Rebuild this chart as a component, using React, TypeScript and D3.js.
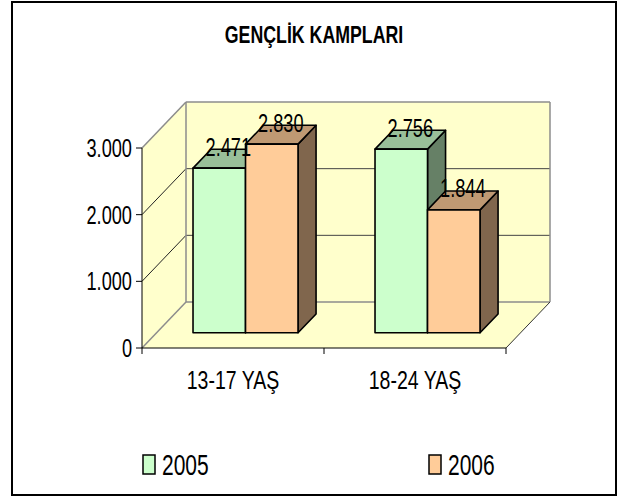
import React, { useEffect, useRef } from 'react';
import * as d3 from 'd3';

const categories = ['13-17 YAŞ', '18-24 YAŞ'];
const seriesNames = ['2005', '2006'];
const values2005 = [2471, 2756];
const values2006 = [2830, 1844];
const yTicks = [0, 1000, 2000, 3000];
const title = 'GENÇLİK KAMPLARI';

const faceColors: Record<string, { front: string; top: string; side: string }> = {
    '2005': { front: '#CCFFCC', top: '#99BF99', side: '#668066' },
    '2006': { front: '#FFCC99', top: '#BF9973', side: '#80664D' },
};

const W = 624, H = 500;
const depth = { x: 44, y: -46 };
const wallFill = '#FFFFCC';
const edgeGrey = '#8C8C8C';
const textFont = '"Liberation Sans", Arial, sans-serif';

const locale = d3.formatLocale({ decimal: ',', thousands: '.', grouping: [3], currency: ['', ''] });
const fmt = locale.format(',d');

export default function App() {
    const ref = useRef<SVGSVGElement>(null);

    useEffect(() => {
        const svg = d3.select(ref.current);
        svg.selectAll('*').remove();

        const yScale = d3.scaleLinear().domain([0, 3000]).range([348, 148]);
        const xScale = d3.scaleBand().domain(categories).range([142, 506]);
        const serScale = d3.scaleBand().domain(seriesNames).range([0, 105]);
        const groupOffset = 36.5;
        const t0 = 0.33, t1 = 0.74;
        const [xMin, xMax] = xScale.range();
        const yMax = yScale.domain()[1];

        const pt = (x: number, v: number, t: number): [number, number] =>
            [x + depth.x * t, yScale(v) + depth.y * t];
        const poly = (pts: [number, number][]) => pts.map(p => p.join(',')).join(' ');
        const line = (g: any, a: [number, number], b: [number, number], color: string, w: number) =>
            g.append('line').attr('x1', a[0]).attr('y1', a[1]).attr('x2', b[0]).attr('y2', b[1])
                .attr('stroke', color).attr('stroke-width', w);
        const label = (x: number, y: number, txt: string, size: number, anchor: string, sx = 0.7, weight = 'normal') =>
            svg.append('text')
                .attr('transform', `translate(${x},${y}) scale(${sx},1)`)
                .attr('text-anchor', anchor)
                .attr('font-family', textFont)
                .attr('font-size', size)
                .attr('font-weight', weight)
                .attr('fill', '#000')
                .text(txt);

        // outer frame
        svg.append('rect').attr('x', 12).attr('y', 2).attr('width', 604).attr('height', 493)
            .attr('fill', '#fff').attr('stroke', '#000').attr('stroke-width', 2);

        label(W / 2 + 2, 43, title, 24, 'middle', 0.74, 'bold');

        // walls and floor
        const walls = svg.append('g');
        walls.append('polygon').attr('points', poly([pt(xMin, 0, 1), pt(xMax, 0, 1), pt(xMax, yMax, 1), pt(xMin, yMax, 1)]))
            .attr('fill', wallFill);
        walls.append('polygon').attr('points', poly([pt(xMin, 0, 0), pt(xMin, 0, 1), pt(xMin, yMax, 1), pt(xMin, yMax, 0)]))
            .attr('fill', wallFill);
        walls.append('polygon').attr('points', poly([pt(xMin, 0, 0), pt(xMax, 0, 0), pt(xMax, 0, 1), pt(xMin, 0, 1)]))
            .attr('fill', wallFill);

        // gridlines
        yTicks.filter(v => v > 0 && v < yMax).forEach(v => {
            line(walls, pt(xMin, v, 0), pt(xMin, v, 1), '#222', 1);
            line(walls, pt(xMin, v, 1), pt(xMax, v, 1), '#444', 1);
        });

        // wall edges
        line(walls, pt(xMin, yMax, 0), pt(xMin, yMax, 1), edgeGrey, 1.5);
        line(walls, pt(xMin, 0, 0), pt(xMin, 0, 1), edgeGrey, 1.5);
        line(walls, pt(xMin, yMax, 1), pt(xMax, yMax, 1), edgeGrey, 1.5);
        line(walls, pt(xMin, 0, 1), pt(xMax, 0, 1), edgeGrey, 1.5);
        line(walls, pt(xMin, 0, 1), pt(xMin, yMax, 1), edgeGrey, 1.5);
        line(walls, pt(xMax, 0, 1), pt(xMax, yMax, 1), edgeGrey, 1.5);
        line(walls, pt(xMax, 0, 0), pt(xMax, 0, 1), '#333', 1);

        // axes
        line(walls, pt(xMin, 0, 0), pt(xMin, yMax, 0), '#000', 1);
        line(walls, pt(xMin, 0, 0), pt(xMax, 0, 0), '#000', 1);
        yTicks.forEach(v => {
            line(walls, [xMin - 6, yScale(v)], [xMin, yScale(v)], '#000', 1);
            label(xMin - 10, yScale(v) + 9, fmt(v), 26, 'end');
        });
        [...categories.map(c => xScale(c) as number), xMax].forEach(x => {
            line(walls, [x, yScale(0)], [x, yScale(0) + 6], '#000', 1);
        });
        categories.forEach(c => {
            label((xScale(c) as number) + xScale.bandwidth() / 2, 389, c, 26, 'middle', 0.75);
        });

        // bars
        const seriesValues: Record<string, number[]> = { '2005': values2005, '2006': values2006 };
        const bars = svg.append('g');
        const labels: { x: number; y: number; v: number }[] = [];
        categories.forEach((c, ci) => {
            seriesNames.forEach(s => {
                const v = seriesValues[s][ci];
                const xl = (xScale(c) as number) + groupOffset + (serScale(s) as number);
                const xr = xl + serScale.bandwidth();
                const col = faceColors[s];
                const stroke = (sel: any) => sel.attr('stroke', '#000').attr('stroke-width', 1.6).attr('stroke-linejoin', 'round');
                bars.append('polygon')
                    .attr('points', poly([pt(xr, 0, t0), pt(xr, 0, t1), pt(xr, v, t1), pt(xr, v, t0)]))
                    .attr('fill', col.side).call(stroke);
                bars.append('polygon')
                    .attr('points', poly([pt(xl, v, t0), pt(xr, v, t0), pt(xr, v, t1), pt(xl, v, t1)]))
                    .attr('fill', col.top).call(stroke);
                bars.append('polygon')
                    .attr('points', poly([pt(xl, 0, t0), pt(xr, 0, t0), pt(xr, v, t0), pt(xl, v, t0)]))
                    .attr('fill', col.front).call(stroke);
                const mid = pt((xl + xr) / 2, v, (t0 + t1) / 2);
                labels.push({ x: mid[0], y: mid[1] - 3, v });
            });
        });
        labels.forEach(d => label(d.x, d.y, fmt(d.v), 26, 'middle'));

        // legend
        const legendX = [143, 429];
        seriesNames.forEach((s, i) => {
            svg.append('rect').attr('x', legendX[i]).attr('y', 455).attr('width', 12).attr('height', 19)
                .attr('fill', faceColors[s].front).attr('stroke', '#000').attr('stroke-width', 1.5);
            label(legendX[i] + 19, 475, s, 30, 'start', 0.7);
        });
    }, []);

    return (
        <svg ref={ref} width={W} height={H}
            style={{ position: 'absolute', left: 0, top: 0, display: 'block', background: '#fff' }} />
    );
}
